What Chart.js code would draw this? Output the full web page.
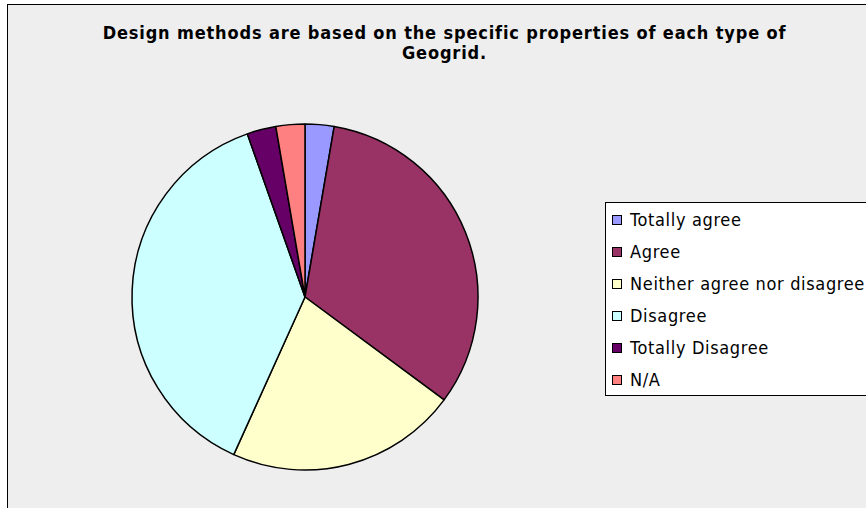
<!DOCTYPE html>
<html><head><meta charset="utf-8">
<script src="https://cdn.jsdelivr.net/npm/chart.js@4"></script>
<style>
html,body{margin:0;padding:0;background:#fff;width:866px;height:508px;overflow:hidden;}
#frame{position:absolute;left:7px;top:4px;width:900px;height:540px;border:1px solid #000;background:#eeeeee;box-sizing:border-box;}
#title{position:absolute;left:0;top:23px;width:889px;text-align:center;font-family:"DejaVu Sans Condensed","DejaVu Sans",sans-serif;font-weight:bold;font-size:18px;letter-spacing:0.85px;line-height:20px;color:#000;white-space:nowrap;}
#wrap{position:absolute;left:125px;top:117px;width:360px;height:360px;}
#legend{position:absolute;left:605px;top:202px;width:300px;height:194px;border:1px solid #000;background:#fff;box-sizing:border-box;font-family:"DejaVu Sans Condensed","DejaVu Sans",sans-serif;font-size:18px;letter-spacing:0.65px;color:#000;}
.item{position:absolute;left:6px;height:20px;line-height:20px;white-space:nowrap;padding-left:18px;}
.sw{position:absolute;left:0;top:5px;width:8px;height:8px;border:1px solid #000;}
</style></head>
<body>
<div id="frame"></div>
<div id="title">Design methods are based on the specific properties of each type of<br>Geogrid.</div>
<div id="wrap"><canvas id="c" width="360" height="360"></canvas></div>
<div id="legend"></div>
<script>
const categories = ["Totally agree","Agree","Neither agree nor disagree","Disagree","Totally Disagree","N/A"];
const responses = [1, 12, 8, 14, 1, 1];
const sliceColors = ["#9999FF","#993366","#FFFFCC","#CCFFFF","#660066","#FF8080"];

const leg = document.getElementById('legend');
categories.forEach((c,i)=>{
  const d=document.createElement('div');
  d.className='item';
  d.style.top=(7+i*32)+'px';
  const s=document.createElement('span');s.className='sw';s.style.background=sliceColors[i];
  d.appendChild(s);d.appendChild(document.createTextNode(c));
  leg.appendChild(d);
});

new Chart(document.getElementById('c'),{
  type:'pie',
  data:{labels:categories,datasets:[{data:responses,backgroundColor:sliceColors,borderColor:'#000',borderWidth:1.5,borderAlign:'center'}]},
  options:{
    responsive:false,animation:false,radius:173,
    layout:{padding:0},
    plugins:{legend:{display:false},tooltip:{enabled:false},title:{display:false}},
    events:[]
  }
});
</script>
</body></html>
